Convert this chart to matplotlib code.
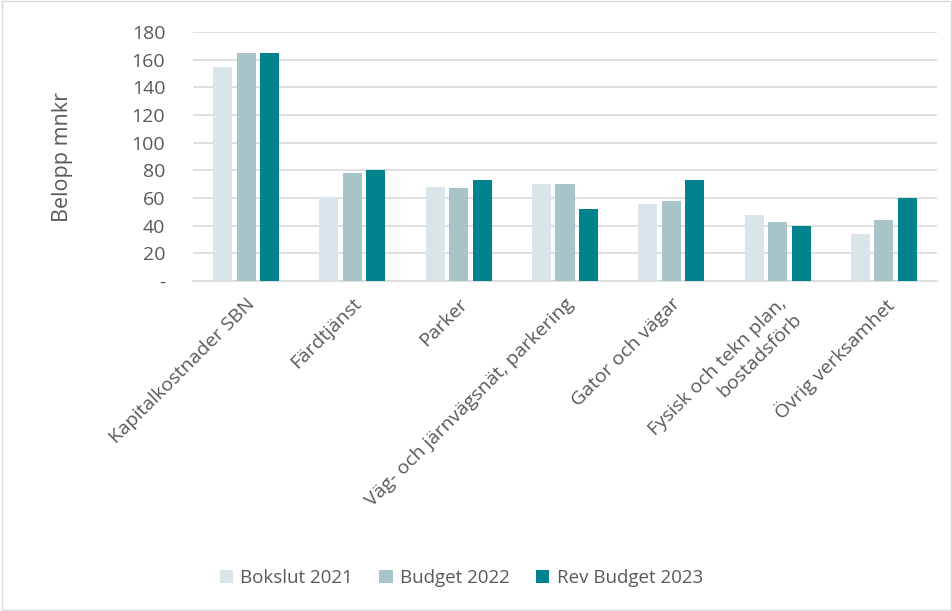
import matplotlib.pyplot as plt
import numpy as np

# data
categories = ["Kapitalkostnader SBN", "Färdtjänst", "Parker",
              "Väg- och järnvägsnät, parkering", "Gator och vägar",
              "Fysisk och tekn plan,\nbostadsförb", "Övrig verksamhet"]
series_names = ["Bokslut 2021", "Budget 2022", "Rev Budget 2023"]
bokslut_2021 = [155, 61, 68, 70, 56, 48, 34]
budget_2022 = [165, 78, 67, 70, 58, 43, 44]
rev_budget_2023 = [165, 80, 73, 52, 73, 40, 60]
yticks = [0, 20, 40, 60, 80, 100, 120, 140, 160, 180]
ytick_labels = ["-", "20", "40", "60", "80", "100", "120", "140", "160", "180"]

colors = ["#DAE5E9", "#A7C4C9", "#00828F"]
text_color = "#595959"

plt.rcParams['font.family'] = ['Open Sans', 'DejaVu Sans']

fig = plt.figure(figsize=(9.53, 6.11), dpi=100)
ax = fig.add_axes([193 / 953, 1 - 281 / 611, 744 / 953, 249 / 611])

x = np.arange(len(categories))
width = 0.179
step = 0.221
for i, (vals, name) in enumerate(zip([bokslut_2021, budget_2022, rev_budget_2023], series_names)):
    ax.bar(x + (i - 1) * step, vals, width, color=colors[i], label=name, zorder=3)

ax.set_xlim(-0.5, len(categories) - 0.5)
ax.set_ylim(0, 180)
ax.set_yticks(yticks)
ax.set_yticklabels(ytick_labels)
ax.yaxis.grid(True, color="#D9D9D9", linewidth=1.2, zorder=0)
for s in ["top", "right", "left"]:
    ax.spines[s].set_visible(False)
ax.spines["bottom"].set_color("#D9D9D9")
ax.spines["bottom"].set_linewidth(1.2)
ax.tick_params(axis="both", length=0, colors=text_color, labelsize=14)
ax.tick_params(axis="y", pad=20)
ax.tick_params(axis="x", pad=10)
ax.set_xticks(x)
ax.set_xticklabels(categories, rotation=45, ha="right", rotation_mode="anchor")
ax.set_ylabel("Belopp mnkr", fontsize=15.5, color=text_color, labelpad=42)

ax.legend(loc="center", bbox_to_anchor=(0.484, 0.054), bbox_transform=fig.transFigure,
          ncol=3, frameon=False, fontsize=13.5, labelcolor=text_color,
          handlelength=0.7, handleheight=0.7, columnspacing=1.4, handletextpad=0.4)

# light border like the original chart frame
fig.patches.append(plt.Rectangle((0.002, 0.002), 0.996, 0.996, transform=fig.transFigure,
                                 fill=False, edgecolor="#D9D9D9", linewidth=1))

fig.savefig("out.png", dpi=100)
